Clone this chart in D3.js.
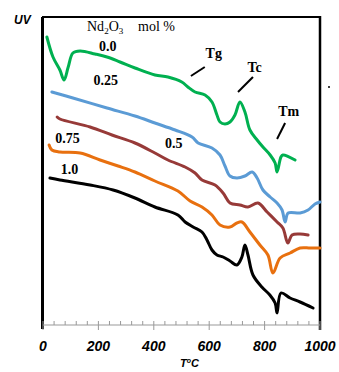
<!DOCTYPE html>
<html><head><meta charset="utf-8">
<script src="https://cdn.jsdelivr.net/npm/d3@7"></script>
<style>body{margin:0;background:#fff}svg{display:block}</style>
</head><body>
<script>
// Temperature (°C) and UV signal (arbitrary units) for each Nd2O3 content
const series = ["0.0", "0.25", "0.5", "0.75", "1.0"];
const colors = ["#00b050", "#5b9bd5", "#973a38", "#e8700f", "#000000"];
const green = [[14,288],[36,268],[61,255],[76,245],[91,258],[108,272],[134,274],[188,271],[231,268],[278,263],[332,257],[404,250],[451,248],[501,243],[523,238],[549,233],[585,230],[610,223],[628,210],[639,203],[657,201],[675,203],[693,210],[711,223],[729,213],[747,195],[773,185],[794,178],[820,170],[838,162],[845,153],[859,168],[866,170],[910,165]];
const blue = [[32,233],[108,227],[231,217],[332,209],[404,202],[477,195],[538,188],[560,182],[610,177],[639,170],[657,159],[675,149],[700,147],[729,149],[755,153],[773,147],[794,135],[820,128],[845,122],[863,115],[874,103],[885,112],[928,112],[957,115],[982,121],[1000,123]];
const brown = [[51,208],[61,206],[170,198],[249,190],[332,182],[404,172],[451,165],[513,158],[549,152],[574,145],[621,140],[650,132],[675,122],[711,120],[740,118],[776,122],[809,113],[845,103],[866,97],[884,82],[899,90],[928,91],[957,90]];
const orange = [[22,180],[32,175],[61,173],[134,172],[206,165],[271,159],[332,153],[404,144],[487,134],[531,124],[574,118],[610,110],[639,100],[675,98],[700,102],[718,103],[747,93],[783,80],[812,70],[830,52],[856,67],[892,72],[928,77],[964,77],[1000,77]];
const black = [[25,147],[61,145],[170,140],[253,135],[332,127],[404,118],[487,110],[513,103],[542,98],[574,93],[592,85],[610,75],[628,70],[650,68],[675,64],[700,60],[718,68],[729,80],[740,70],[758,50],[790,38],[819,30],[838,22],[845,12],[859,32],[892,27],[928,23],[975,17]];
const data = [green, blue, brown, orange, black];
const xTicks = [0, 200, 400, 600, 800, 1000];
const seriesLabels = [
  {t:"0.0", T:202, v:274}, {t:"0.25", T:182, v:240}, {t:"0.5", T:440, v:177},
  {t:"0.75", T:44, v:182}, {t:"1.0", T:64, v:151}
];
const peakLabels = [
  {t:"Tg", T:587, v:267, from:[534,249], to:[584,258]},
  {t:"Tc", T:738, v:253, from:[704,233], to:[758,248]},
  {t:"Tm", T:849, v:209, from:[845,186], to:[874,202]}
];

const W = 339, H = 372;
const mLeft = 43, mRight = 320, mTop = 17, mBottom = 325;
const svg = d3.select("body").append("svg").attr("width", W).attr("height", H);
const x = d3.scaleLinear().domain([0, 1000]).range([mLeft, mRight]);
const y = d3.scaleLinear().domain([0, 308]).range([mBottom, mTop]);

// frame
svg.append("line").attr("x1", mLeft-1).attr("x2", mRight).attr("y1", mTop).attr("y2", mTop)
  .attr("stroke", "#000").attr("stroke-width", 2);
svg.append("line").attr("x1", 42.5).attr("x2", 42.5).attr("y1", mTop).attr("y2", 329)
  .attr("stroke", "#000").attr("stroke-width", 3);
svg.append("line").attr("x1", 320).attr("x2", 320).attr("y1", mTop-1).attr("y2", 330)
  .attr("stroke", "#000").attr("stroke-width", 2.5);

// x axis
const ax = svg.append("g");
ax.append("line").attr("x1", mLeft).attr("x2", mRight).attr("y1", mBottom).attr("y2", mBottom)
  .attr("stroke", "#999").attr("stroke-width", 1);
const minor = d3.range(0, 1001, 40).filter(v => v % 200 !== 0);
ax.selectAll(".mn").data(minor).join("line")
  .attr("x1", d => x(d)).attr("x2", d => x(d)).attr("y1", mBottom-4).attr("y2", mBottom)
  .attr("stroke", "#999");
ax.selectAll(".mj").data(xTicks).join("line")
  .attr("x1", d => x(d)).attr("x2", d => x(d)).attr("y1", mBottom-4).attr("y2", mBottom+5)
  .attr("stroke", "#999");
ax.selectAll(".tl").data(xTicks).join("text")
  .attr("x", d => x(d)).attr("y", 351).attr("text-anchor", "middle")
  .attr("font-family", "Liberation Sans, Arial, sans-serif").attr("font-weight", "bold")
  .attr("font-style", "italic").attr("font-size", 14).text(d => d);

const tl = svg.append("text").attr("x", 180).attr("y", 367)
  .attr("font-family", "Liberation Sans, Arial, sans-serif").attr("font-weight", "bold")
  .attr("font-style", "italic").attr("font-size", 11);
tl.append("tspan").text("T");
tl.append("tspan").attr("font-size", 7).attr("dy", -4).text("o");
tl.append("tspan").attr("dy", 4).text("C");

svg.append("text").attr("x", 14).attr("y", 24)
  .attr("font-family", "Liberation Sans, Arial, sans-serif").attr("font-weight", "bold")
  .attr("font-style", "italic").attr("font-size", 12).text("UV");

// curves
const line = d3.line().x(d => x(d[0])).y(d => y(d[1])).curve(d3.curveCatmullRom.alpha(0.5));
svg.selectAll(".curve").data(data).join("path")
  .attr("d", line).attr("fill", "none")
  .attr("stroke", (d, i) => colors[i]).attr("stroke-width", 3)
  .attr("stroke-linejoin", "round").attr("stroke-linecap", "round");

// legend title
const tt = svg.append("text").attr("x", 87).attr("y", 31)
  .attr("font-family", "Liberation Serif, Times New Roman, serif").attr("font-size", 14);
tt.append("tspan").text("Nd");
tt.append("tspan").attr("font-size", 9).attr("dy", 3).text("2");
tt.append("tspan").attr("dy", -3).text("O");
tt.append("tspan").attr("font-size", 9).attr("dy", 3).text("3");
svg.append("text").attr("x", 138).attr("y", 31)
  .attr("font-family", "Liberation Serif, Times New Roman, serif").attr("font-size", 14)
  .text("mol %");

svg.selectAll(".sl").data(seriesLabels).join("text")
  .attr("x", d => x(d.T)).attr("y", d => y(d.v))
  .attr("font-family", "Liberation Serif, Times New Roman, serif").attr("font-weight", "bold")
  .attr("font-size", 14).text(d => d.t);

svg.selectAll(".pl").data(peakLabels).join("text")
  .attr("x", d => x(d.T)).attr("y", d => y(d.v))
  .attr("font-family", "Liberation Serif, Times New Roman, serif").attr("font-weight", "bold")
  .attr("font-size", 14).text(d => d.t);
svg.selectAll(".ll").data(peakLabels).join("line")
  .attr("x1", d => x(d.from[0])).attr("y1", d => y(d.from[1]))
  .attr("x2", d => x(d.to[0])).attr("y2", d => y(d.to[1]))
  .attr("stroke", "#000").attr("stroke-width", 2);

svg.append("circle").attr("cx", 329).attr("cy", 87).attr("r", 1).attr("fill", "#000");
</script>
</body></html>
